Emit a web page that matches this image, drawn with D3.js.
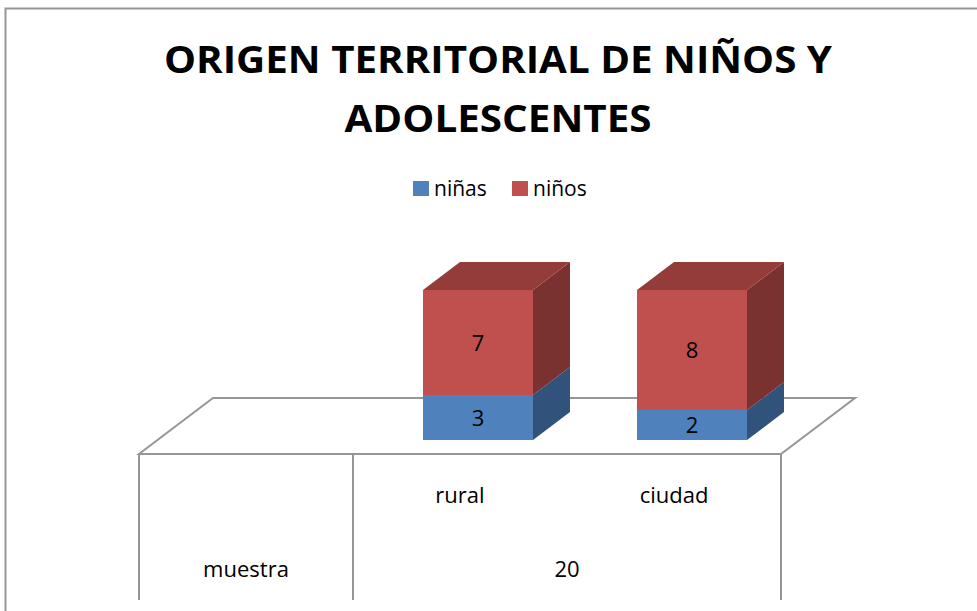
<!DOCTYPE html>
<html>
<head>
<meta charset="utf-8">
<script src="https://d3js.org/d3.v7.min.js"></script>
<style>
html, body { margin: 0; padding: 0; background: #fff; overflow: hidden; }
text { font-family: "Open Sans", sans-serif; fill: #000; }
</style>
</head>
<body>
<div id="chart"></div>
<script>
var categories = ["rural", "ciudad"];
var seriesNames = ["niñas", "niños"];
var ninas = [3, 2];
var ninos = [7, 8];
var titleLines = ["ORIGEN TERRITORIAL DE NIÑOS Y", "ADOLESCENTES"];
var rowName = "muestra";
var rowValue = 20;

var width = 977
var height = 611

var colors = { "niñas": ["#4f81bd", "#31527a"], "niños": ["#c0504d", "#7a3230", "#943c3a"] };
var lineColor = "#969696";

var svg = d3.select("#chart").append("svg")
    .attr("width", width)
    .attr("height", height)
    .style("display", "block");

// outer frame, cut off by the page on the right and bottom
svg.append("path")
    .attr("d", "M5.5,611V8.5H977")
    .attr("fill", "none")
    .attr("stroke", lineColor)
    .attr("stroke-width", 2);

// title
svg.selectAll(".title")
    .data(titleLines)
    .enter().append("text")
    .attr("class", "title")
    .attr("x", 498)
    .attr("y", (d, i) => 73 + i * 59)
    .attr("text-anchor", "middle")
    .style("font-size", "38px")
    .style("font-weight", 700)
    .attr("textLength", (d, i) => i == 0 ? 668 : 307)
    .attr("lengthAdjust", "spacingAndGlyphs")
    .text(d => d);

// legend
var legendX = [413, 512];
var legend = svg.selectAll(".legend")
    .data(seriesNames)
    .enter().append("g")
    .attr("class", "legend")
    .attr("transform", (d, i) => "translate(" + legendX[i] + ",181)");
legend.append("rect")
    .attr("width", 16)
    .attr("height", 15)
    .attr("fill", d => colors[d][0]);
legend.append("text")
    .attr("x", 21)
    .attr("y", 15)
    .style("font-size", "21px")
    .text(d => d);

// scales
var x = d3.scaleBand()
    .domain(categories)
    .range([353, 781])
    .paddingInner(0.486)
    .paddingOuter(0.243);

var y = d3.scaleLinear()
    .domain([0, 10])
    .range([440, 290]);

var depthX = 37;
var depthY = -28;
var barShift = 18;

// floor
var floorLeft = 139, floorRight = 781, floorY = 454, floorBottom = 600;
var floorBack = 398;
svg.append("path")
    .attr("d", "M" + floorLeft + "," + floorY + "L" + (floorLeft + 74) + "," + floorBack + "H" + (floorRight + 74) + "L" + floorRight + "," + floorY + "Z")
    .attr("fill", "none")
    .attr("stroke", lineColor)
    .attr("stroke-width", 2);

// data table lines
svg.selectAll(".tableLine")
    .data([floorLeft, x.range()[0], floorRight])
    .enter().append("line")
    .attr("class", "tableLine")
    .attr("x1", d => d)
    .attr("x2", d => d)
    .attr("y1", floorY)
    .attr("y2", floorBottom)
    .attr("stroke", lineColor)
    .attr("stroke-width", 2);

// stacked 3d bars
var stack = d3.stack().keys(seriesNames)(categories.map((c, i) => ({ cat: c, "niñas": ninas[i], "niños": ninos[i] })));

stack.forEach(layer => {
    var name = layer.key;
    layer.forEach(d => {
        var x0 = x(d.data.cat) + barShift;
        var x1 = x0 + x.bandwidth();
        var yTop = y(d[1]);
        var yBot = y(d[0]);
        var g = svg.append("g");
        // side face
        g.append("path")
            .attr("d", "M" + x1 + "," + yBot + "L" + (x1 + depthX) + "," + (yBot + depthY) + "V" + (yTop + depthY) + "L" + x1 + "," + yTop + "Z")
            .attr("fill", colors[name][1]);
        // top face only on the top segment
        if (name == "niños") {
            g.append("path")
                .attr("d", "M" + x0 + "," + yTop + "L" + (x0 + depthX) + "," + (yTop + depthY) + "H" + (x1 + depthX) + "L" + x1 + "," + yTop + "Z")
                .attr("fill", colors[name][2]);
        }
        g.append("rect")
            .attr("x", x0)
            .attr("y", yTop)
            .attr("width", x.bandwidth())
            .attr("height", yBot - yTop)
            .attr("fill", colors[name][0]);
        g.append("text")
            .attr("x", (x0 + x1) / 2)
            .attr("y", (yTop + yBot) / 2 + 8)
            .attr("text-anchor", "middle")
            .style("font-size", "22px")
            .text(d[1] - d[0]);
    });
});

// data table text
svg.selectAll(".catLabel")
    .data(categories)
    .enter().append("text")
    .attr("class", "catLabel")
    .attr("x", d => x(d) + x.bandwidth() / 2)
    .attr("y", 503)
    .attr("text-anchor", "middle")
    .style("font-size", "22px")
    .text(d => d);

svg.append("text")
    .attr("x", (floorLeft + x.range()[0]) / 2)
    .attr("y", 577)
    .attr("text-anchor", "middle")
    .style("font-size", "22px")
    .text(rowName);

svg.append("text")
    .attr("x", (x.range()[0] + floorRight) / 2)
    .attr("y", 577)
    .attr("text-anchor", "middle")
    .style("font-size", "22px")
    .text(rowValue);
</script>
</body>
</html>
